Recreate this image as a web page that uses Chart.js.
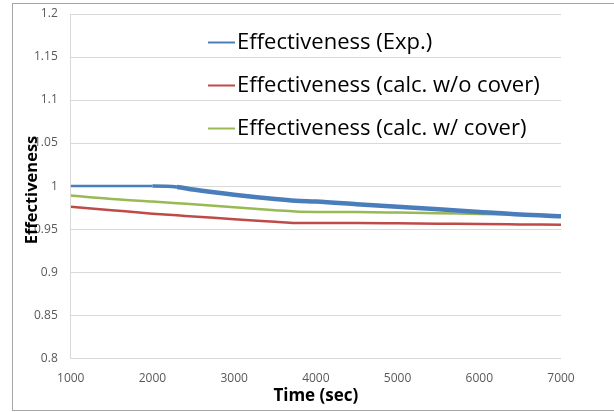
<!DOCTYPE html>
<html>
<head>
<meta charset="utf-8">
<script src="https://cdn.jsdelivr.net/npm/chart.js@4/dist/chart.umd.min.js"></script>
<style>
  html, body { margin: 0; padding: 0; background: #fff; }
  #wrap { width: 614px; height: 412px; }
</style>
</head>
<body>
<div id="wrap"><canvas id="effCanvas" width="614" height="412"></canvas></div>
<script>
// values
const times = [1000, 1500, 2000, 2300, 2500, 3000, 3500, 3750, 4000, 4500, 5000, 5500, 6000, 6500, 7000];
const expValues = [1.000, 1.000, 1.000, 0.999, 0.996, 0.990, 0.985, 0.983, 0.982, 0.979, 0.976, 0.973, 0.970, 0.967, 0.965];
const calcNoCover = [0.976, 0.972, 0.968, 0.966, 0.9648, 0.9615, 0.9585, 0.957, 0.957, 0.957, 0.9567, 0.9563, 0.956, 0.9555, 0.955];
const calcCover = [0.989, 0.985, 0.982, 0.9802, 0.979, 0.9755, 0.972, 0.9705, 0.970, 0.9698, 0.9692, 0.9685, 0.9677, 0.967, 0.966];
const seriesNames = ['Effectiveness (Exp.)', 'Effectiveness (calc. w/o cover)', 'Effectiveness (calc. w/ cover)'];

const toPoints = vals => vals.map((v, i) => ({ x: times[i], y: v }));

// frame around the whole chart, and the y title drawn over the tick labels like the original
const framePlugin = {
    id: 'frame',
    afterDraw(chart) {
        const c = chart.ctx;
        c.save();
        c.strokeStyle = '#a6a6a6';
        c.lineWidth = 1;
        c.strokeRect(12.5, 3.5, 620, 407);

        c.translate(32, 190);
        c.rotate(-Math.PI / 2);
        c.font = 'bold 16.5px "Open Sans"';
        c.fillStyle = '#000';
        c.textAlign = 'center';
        c.textBaseline = 'middle';
        c.fillText('Effectiveness', 0, 0);
        c.restore();
    }
};

// legend sits inside the plot, one row per series
const innerLegend = {
    id: 'innerLegend',
    afterDatasetsDraw(chart) {
        const c = chart.ctx;
        c.save();
        c.font = '22px "Open Sans"';
        c.textBaseline = 'middle';
        chart.data.datasets.forEach((ds, i) => {
            const y = 42.5 + i * 43;
            c.strokeStyle = ds.borderColor;
            c.lineWidth = 2;
            c.beginPath();
            c.moveTo(208, y);
            c.lineTo(235, y);
            c.stroke();
            c.fillStyle = '#000';
            c.fillText(ds.label, 237, y);
        });
        c.restore();
    }
};

const ctxEff = document.getElementById('effCanvas').getContext('2d');
const effChart = new Chart(ctxEff, {
    type: 'line',
    data: {
        datasets: [
            {
                label: seriesNames[0],
                data: toPoints(expValues),
                borderColor: '#4a7ebb',
                borderWidth: 2.5,
                segment: {
                    borderWidth: ctx => ctx.p0.parsed.x >= 2300 ? 4.5 : (ctx.p0.parsed.x >= 2000 ? 3.5 : 2.5)
                },
                pointRadius: 0,
                cubicInterpolationMode: 'monotone'
            },
            {
                label: seriesNames[1],
                data: toPoints(calcNoCover),
                borderColor: '#be4b48',
                borderWidth: 2.5,
                pointRadius: 0,
                cubicInterpolationMode: 'monotone'
            },
            {
                label: seriesNames[2],
                data: toPoints(calcCover),
                borderColor: '#98b954',
                borderWidth: 2.5,
                pointRadius: 0,
                cubicInterpolationMode: 'monotone'
            }
        ]
    },
    options: {
        responsive: false,
        animation: false,
        layout: {
            padding: { left: 21, right: 53, top: 0, bottom: 6 }
        },
        plugins: {
            legend: { display: false },
            tooltip: { enabled: false }
        },
        scales: {
            x: {
                type: 'linear',
                min: 1000,
                max: 7000,
                ticks: {
                    stepSize: 1000,
                    padding: 13,
                    color: '#595959',
                    font: { family: '"Open Sans"', size: 12 },
                    callback: v => String(v)
                },
                grid: { display: false, drawTicks: false },
                border: { display: false },
                title: {
                    display: true,
                    text: 'Time (sec)',
                    color: '#000',
                    font: { family: '"Open Sans"', size: 17, weight: 'bold' },
                    padding: { top: -13, bottom: 0 }
                }
            },
            y: {
                min: 0.8,
                max: 1.2,
                afterFit: scale => { scale.paddingTop = 14; },
                ticks: {
                    stepSize: 0.05,
                    padding: 13,
                    color: '#595959',
                    font: { family: '"Open Sans"', size: 12 },
                    callback: v => +v.toFixed(2)
                },
                grid: { color: '#d9d9d9', lineWidth: 1, drawTicks: false },
                border: { display: true, color: '#d9d9d9' }
            }
        }
    },
    plugins: [framePlugin, innerLegend]
});
</script>
</body>
</html>
